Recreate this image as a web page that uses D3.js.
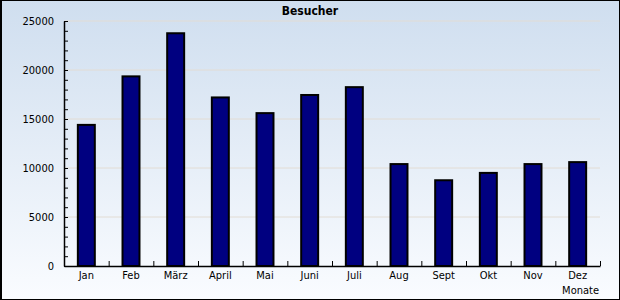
<!DOCTYPE html>
<html>
<head>
<meta charset="utf-8">
<script src="https://cdn.jsdelivr.net/npm/d3@7"></script>
<style>
  body { margin: 0; }
  text { font-family: "DejaVu Sans Condensed", "DejaVu Sans", sans-serif; }
</style>
</head>
<body>
<script>
// Data
var months = ['Jan', 'Feb', 'März', 'April', 'Mai', 'Juni', 'Juli', 'Aug', 'Sept', 'Okt', 'Nov', 'Dez'];
var visitors = [14400, 19350, 23750, 17200, 15600, 17450, 18250, 10400, 8750, 9500, 10400, 10600];
var majorTicks = [0, 5000, 10000, 15000, 20000, 25000];

var svgWidth = 620, svgHeight = 300;
var margin = { top: 21, left: 64, bottom: 34, right: 20 };
var chartWidth = svgWidth - margin.left - margin.right;
var chartHeight = svgHeight - margin.top - margin.bottom;
var fontFamily = '"DejaVu Sans Condensed", "DejaVu Sans", sans-serif';

var svg = d3.select('body').append('svg')
    .attr('width', svgWidth)
    .attr('height', svgHeight);

// Background gradient
var grad = svg.append('defs').append('linearGradient')
    .attr('id', 'bg').attr('x1', 0).attr('y1', 0).attr('x2', 0).attr('y2', 1);
grad.append('stop').attr('offset', '0%').attr('stop-color', '#cfdeef');
grad.append('stop').attr('offset', '100%').attr('stop-color', '#fafcff');

svg.append('rect')
    .attr('width', svgWidth).attr('height', svgHeight)
    .attr('fill', 'url(#bg)');

var chartGroup = svg.append('g')
    .attr('transform', `translate(${margin.left}, ${margin.top})`);

// Scales
var xScale = d3.scaleBand()
    .domain(months)
    .range([0, chartWidth])
    .paddingInner(0.62)
    .paddingOuter(0.31);
var xEdge = d3.scaleLinear().domain([0, months.length]).range([0, chartWidth]);
var yScale = d3.scaleLinear().domain([0, 25000]).range([chartHeight, 0]);

// Grid lines
chartGroup.selectAll('.grid')
    .data(majorTicks.filter(d => d > 0))
    .enter().append('line')
    .attr('x1', 0).attr('x2', chartWidth)
    .attr('y1', d => yScale(d)).attr('y2', d => yScale(d))
    .attr('stroke', '#e2dcd4')
    .attr('stroke-width', 1);

// Bars
chartGroup.selectAll('.bar')
    .data(visitors)
    .enter().append('rect')
    .attr('x', (d, i) => xScale(months[i]))
    .attr('y', d => yScale(d))
    .attr('width', xScale.bandwidth())
    .attr('height', d => chartHeight - yScale(d))
    .attr('fill', '#000080')
    .attr('stroke', '#000')
    .attr('stroke-width', 2);

// Y axis: minor ticks, then major ticks with labels
chartGroup.append('g')
    .call(d3.axisLeft(yScale).ticks(25).tickSize(-4).tickFormat(''))
    .call(g => g.select('.domain').remove())
    .selectAll('line').attr('stroke', '#000');

var yAxis = chartGroup.append('g')
    .call(d3.axisLeft(yScale).tickValues(majorTicks).tickFormat(d3.format('d'))
        .tickSize(-4).tickPadding(10).tickSizeOuter(0));
yAxis.selectAll('text').attr('font-size', 11).attr('fill', '#000').attr('font-family', fontFamily);
yAxis.select('.domain').attr('stroke-width', 1.5);

// X axis: labels and boundary ticks
var xAxis = chartGroup.append('g')
    .attr('transform', `translate(0, ${chartHeight})`)
    .call(d3.axisBottom(xScale).tickSize(0).tickPadding(5));
xAxis.select('.domain').attr('stroke-width', 1.5);
xAxis.selectAll('text').attr('font-size', 11).attr('fill', '#000').attr('font-family', fontFamily);

chartGroup.append('g')
    .attr('transform', `translate(0, ${chartHeight})`)
    .call(d3.axisBottom(xEdge).ticks(12).tickSize(-5).tickFormat(''))
    .call(g => g.select('.domain').remove());

// Titles
svg.append('text')
    .attr('x', 310).attr('y', 15)
    .attr('text-anchor', 'middle')
    .attr('font-size', 12).attr('font-weight', 'bold')
    .text('Besucher');

svg.append('text')
    .attr('x', 599).attr('y', 294)
    .attr('text-anchor', 'end')
    .attr('font-size', 11)
    .text('Monate');

// Border
svg.append('rect')
    .attr('x', 0.5).attr('y', 0.5)
    .attr('width', svgWidth - 1).attr('height', svgHeight - 1)
    .attr('fill', 'none').attr('stroke', '#000');
svg.append('line')
    .attr('x1', 1.5).attr('x2', 1.5).attr('y1', 0).attr('y2', svgHeight)
    .attr('stroke', '#000');
</script>
</body>
</html>
